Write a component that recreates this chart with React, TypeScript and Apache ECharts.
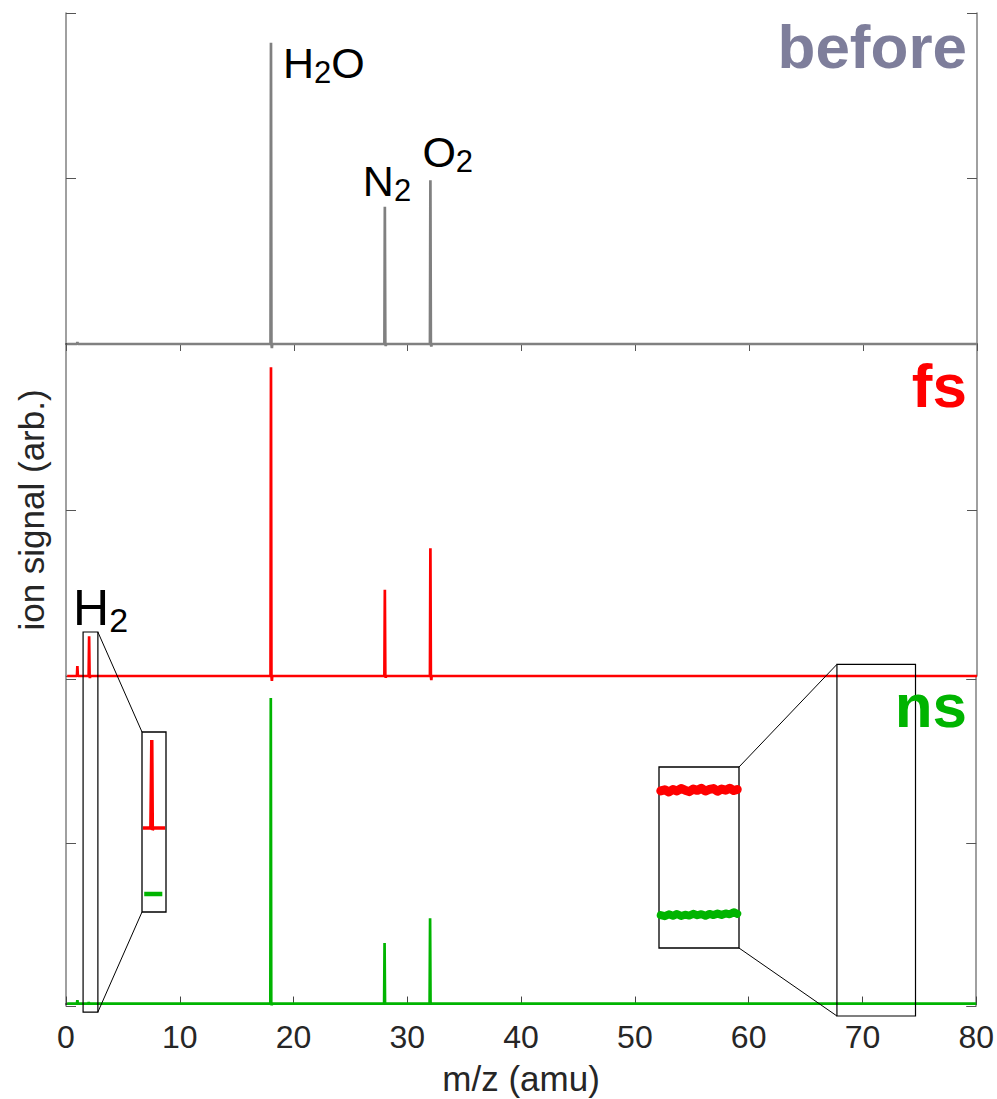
import React, { useEffect, useRef } from "react";
import * as echarts from "echarts";

// ---- axis settings ----
const X_MIN = 0;
const X_MAX = 80;
const X_STEP = 10;
const PANEL_MAX = 2;

// ---- spectra: [m/z, signal] peak tops and small undershoots after peaks ----
const beforePeaks = [
  [1.0, 0.012],
  [18, 1.82],
  [28, 0.83],
  [32, 0.99],
];
const beforeDips = [
  [18.08, -0.025],
  [28.08, -0.012],
  [32.08, -0.015],
];
const fsPeaks = [
  [1.0, 0.06],
  [2.03, 0.24],
  [18, 1.86],
  [28, 0.52],
  [32, 0.77],
];
const fsDips = [
  [2.1, -0.012],
  [18.08, -0.03],
  [28.08, -0.01],
  [32.08, -0.025],
];
const nsPeaks = [
  [1.0, 0.02],
  [2.0, 0.008],
  [18, 1.865],
  [28, 0.37],
  [32, 0.52],
];
const nsDips = [[18.08, -0.01]];

// ---- magnified views ----
// H2 region (1.5 - 2.8 amu), fs trace offset above the ns trace
const h2InsetFs = [
  [1.55, 0.467],
  [1.98, 0.467],
  [2.03, 0.956],
  [2.06, 0.455],
  [2.1, 0.467],
  [2.75, 0.467],
];
const h2InsetNs = [
  [1.62, 0.1],
  [2.6, 0.1],
];
// 68 - 75 amu baseline region
const bandX = [
  67.85, 68.2, 68.55, 68.9, 69.25, 69.6, 69.95, 70.3, 70.65, 71.0, 71.35,
  71.7, 72.05, 72.4, 72.75, 73.1, 73.45, 73.8, 74.15, 74.45,
];
const bandFs = [
  0.868, 0.874, 0.862, 0.876, 0.868, 0.881, 0.872, 0.864, 0.878, 0.871,
  0.882, 0.867, 0.876, 0.881, 0.866, 0.878, 0.872, 0.883, 0.87, 0.876,
];
const bandNs = [
  0.182, 0.176, 0.186, 0.178, 0.188, 0.177, 0.184, 0.179, 0.189, 0.181,
  0.187, 0.178, 0.188, 0.182, 0.19, 0.183, 0.191, 0.186, 0.198, 0.189,
];

// zoom windows drawn on the main axes: m/z range, top (fs panel units), bottom (ns panel units)
const zoomWindows = [
  { x0: 1.5, x1: 2.8, top: 0.265, bottom: -0.052, inset: 3, side: "right" },
  { x0: 67.7, x1: 74.6, top: 0.07, bottom: -0.076, inset: 4, side: "left" },
];

// peak labels: panel, m/z, height, main text, subscript, trailing text, sizes, pixel offset
const peakLabels = [
  { grid: 0, x: 18, y: 1.82, main: "H", sub: "2", tail: "O", size: 43, subSize: 31, dx: 12, dy: -5 },
  { grid: 0, x: 28, y: 0.83, main: "N", sub: "2", tail: "", size: 43, subSize: 31, dx: -22, dy: -51 },
  { grid: 0, x: 32, y: 0.99, main: "O", sub: "2", tail: "", size: 43, subSize: 31, dx: -8, dy: -53 },
  { grid: 1, x: 2.03, y: 0.24, main: "H", sub: "2", tail: "", size: 50, subSize: 34, dx: -16, dy: -57 },
];

const panelTitles = [
  { text: "before", color: "#7e7e9b", y: 46 },
  { text: "fs", color: "#ff0000", y: 385 },
  { text: "ns", color: "#00b400", y: 705 },
];

const GREY = "#808080";
const RED = "#ff0000";
const GREEN = "#00b400";
const FONT = "'Liberation Sans', Arial, Helvetica, sans-serif";

function spectrum(peaks: number[][], dips: number[][]) {
  const pts: number[][] = [];
  for (const [x, h] of peaks) {
    pts.push([x - 0.04, 0], [x, h], [x + 0.04, 0]);
  }
  for (const [x, d] of dips) {
    pts.push([x - 0.03, 0], [x, d], [x + 0.03, 0]);
  }
  pts.sort((a, b) => a[0] - b[0]);
  return [[0.1, 0], ...pts, [X_MAX, 0]];
}

const panels = [
  { top: 13, height: 331, min: 0, color: GREY, data: spectrum(beforePeaks, beforeDips) },
  { top: 344, height: 332, min: 0, color: RED, data: spectrum(fsPeaks, fsDips) },
  { top: 676, height: 330, min: -0.015, color: GREEN, data: spectrum(nsPeaks, nsDips) },
];

export default function App() {
  const ref = useRef<HTMLDivElement>(null);

  useEffect(() => {
    if (!ref.current) return;
    const chart = echarts.init(ref.current, null, { renderer: "svg" });

    const grids: any[] = panels.map((p) => ({
      left: 66,
      right: 20,
      top: p.top,
      height: p.height,
      containLabel: false,
    }));
    grids.push({ left: 142, top: 732, width: 24, height: 180, show: true, borderColor: "#000", borderWidth: 1.3, backgroundColor: "rgba(0,0,0,0)" });
    grids.push({ left: 659, top: 767, width: 80, height: 181, show: true, borderColor: "#000", borderWidth: 1.3, backgroundColor: "rgba(0,0,0,0)" });

    const xAxes: any[] = [
      {
        gridIndex: 0,
        type: "value",
        position: "top",
        min: X_MIN,
        max: X_MAX,
        interval: X_STEP,
        axisLine: { show: true, lineStyle: { color: "#333", width: 1.5 } },
        axisTick: { show: true, inside: true, length: 7, lineStyle: { color: "#555" } },
        axisLabel: { show: false },
        splitLine: { show: false },
      },
      {
        gridIndex: 1,
        type: "value",
        min: X_MIN,
        max: X_MAX,
        interval: X_STEP,
        show: false,
      },
      {
        gridIndex: 2,
        type: "value",
        position: "bottom",
        min: X_MIN,
        max: X_MAX,
        interval: X_STEP,
        axisLine: { show: true, lineStyle: { color: "#000", width: 1.5 } },
        axisTick: { show: true, inside: true, length: 7, lineStyle: { color: "#444" } },
        axisLabel: { show: true, fontSize: 32, color: "#262626", fontFamily: FONT, margin: 15 },
        splitLine: { show: false },
        name: "m/z (amu)",
        nameLocation: "middle",
        nameGap: 55,
        nameTextStyle: { fontSize: 35, color: "#262626", fontFamily: FONT },
      },
      { gridIndex: 3, type: "value", min: 1.5, max: 2.8, show: false },
      { gridIndex: 4, type: "value", min: 67.7, max: 74.6, show: false },
    ];

    const yAxes: any[] = [];
    panels.forEach((p, i) => {
      const common = {
        gridIndex: i,
        type: "value",
        min: p.min,
        max: PANEL_MAX,
        interval: 1,
        axisLine: { show: true, onZero: false, lineStyle: { color: GREY, width: 1.5 } },
        axisTick: { show: true, inside: true, length: 10, lineStyle: { color: "#555" } },
        axisLabel: { show: false },
        splitLine: { show: false },
      };
      const left: any = { ...common, position: "left" };
      if (i === 1) {
        left.name = "ion signal (arb.)";
        left.nameLocation = "middle";
        left.nameGap = 17;
        left.nameRotate = 90;
        left.nameTextStyle = { fontSize: 35, color: "#262626", fontFamily: FONT };
      }
      yAxes.push(left);
      yAxes.push({ ...common, position: "right" });
    });
    yAxes.push({ gridIndex: 3, type: "value", min: 0, max: 1, show: false });
    yAxes.push({ gridIndex: 4, type: "value", min: 0, max: 1, show: false });

    const series: any[] = panels.map((p, i) => ({
      type: "line",
      xAxisIndex: i,
      yAxisIndex: i * 2,
      data: p.data,
      showSymbol: false,
      clip: false,
      lineStyle: { color: p.color, width: 2.7 },
      z: 3 - i,
    }));
    series.push(
      { type: "line", xAxisIndex: 3, yAxisIndex: 6, data: h2InsetFs, showSymbol: false, lineStyle: { color: RED, width: 3.5 } },
      { type: "line", xAxisIndex: 3, yAxisIndex: 6, data: h2InsetNs, showSymbol: false, lineStyle: { color: GREEN, width: 4.5 } },
      { type: "line", xAxisIndex: 4, yAxisIndex: 7, data: bandX.map((x, k) => [x, bandFs[k]]), showSymbol: false, lineStyle: { color: RED, width: 9, join: "round", cap: "round" } },
      { type: "line", xAxisIndex: 4, yAxisIndex: 7, data: bandX.map((x, k) => [x, bandNs[k]]), showSymbol: false, lineStyle: { color: GREEN, width: 8, join: "round", cap: "round" } }
    );

    chart.setOption({
      animation: false,
      backgroundColor: "#fff",
      grid: grids,
      xAxis: xAxes,
      yAxis: yAxes,
      series,
    });

    // annotations placed through the axes' own coordinate conversion
    const graphics: any[] = [];
    for (const w of zoomWindows) {
      const [xl, yt] = chart.convertToPixel({ gridIndex: 1 }, [w.x0, w.top]) as number[];
      const [xr] = chart.convertToPixel({ gridIndex: 1 }, [w.x1, w.top]) as number[];
      const [, yb] = chart.convertToPixel({ gridIndex: 2 }, [w.x0, w.bottom]) as number[];
      graphics.push({
        type: "rect",
        z: 100,
        shape: { x: xl, y: yt, width: xr - xl, height: yb - yt },
        style: { fill: "none", stroke: "#000", lineWidth: 1.2 },
      });
      const xAx = xAxes[w.inset];
      const [ixl, iyt] = chart.convertToPixel({ gridIndex: w.inset }, [xAx.min, 1]) as number[];
      const [ixr, iyb] = chart.convertToPixel({ gridIndex: w.inset }, [xAx.max, 0]) as number[];
      const rx = w.side === "right" ? xr : xl;
      const ix = w.side === "right" ? ixl : ixr;
      graphics.push(
        { type: "line", z: 100, shape: { x1: rx, y1: yt, x2: ix, y2: iyt }, style: { stroke: "#000", lineWidth: 1 } },
        { type: "line", z: 100, shape: { x1: rx, y1: yb, x2: ix, y2: iyb }, style: { stroke: "#000", lineWidth: 1 } }
      );
    }
    for (const lb of peakLabels) {
      const [px, py] = chart.convertToPixel({ gridIndex: lb.grid }, [lb.x, lb.y]) as number[];
      const lh = Math.round(lb.size * 1.16);
      graphics.push({
        type: "text",
        z: 100,
        x: px + lb.dx,
        y: py + lb.dy,
        style: {
          text: `{m|${lb.main}}{s|${lb.sub}}` + (lb.tail ? `{m|${lb.tail}}` : ""),
          align: "left",
          verticalAlign: "top",
          rich: {
            m: { fontSize: lb.size, lineHeight: lh, fontFamily: FONT, fill: "#000", verticalAlign: "middle" },
            s: { fontSize: lb.subSize, lineHeight: 20, fontFamily: FONT, fill: "#000", verticalAlign: "bottom" },
          },
        },
      });
    }
    for (const t of panelTitles) {
      graphics.push({
        type: "text",
        z: 100,
        x: 967,
        y: t.y,
        style: {
          text: t.text,
          fill: t.color,
          fontSize: 62,
          fontWeight: "bold",
          fontFamily: FONT,
          align: "right",
          verticalAlign: "middle",
        },
      });
    }
    chart.setOption({ graphic: graphics });

    return () => chart.dispose();
  }, []);

  return (
    <div
      ref={ref}
      style={{ position: "absolute", left: 0, top: 0, width: 997, height: 1099, background: "#fff" }}
    />
  );
}
